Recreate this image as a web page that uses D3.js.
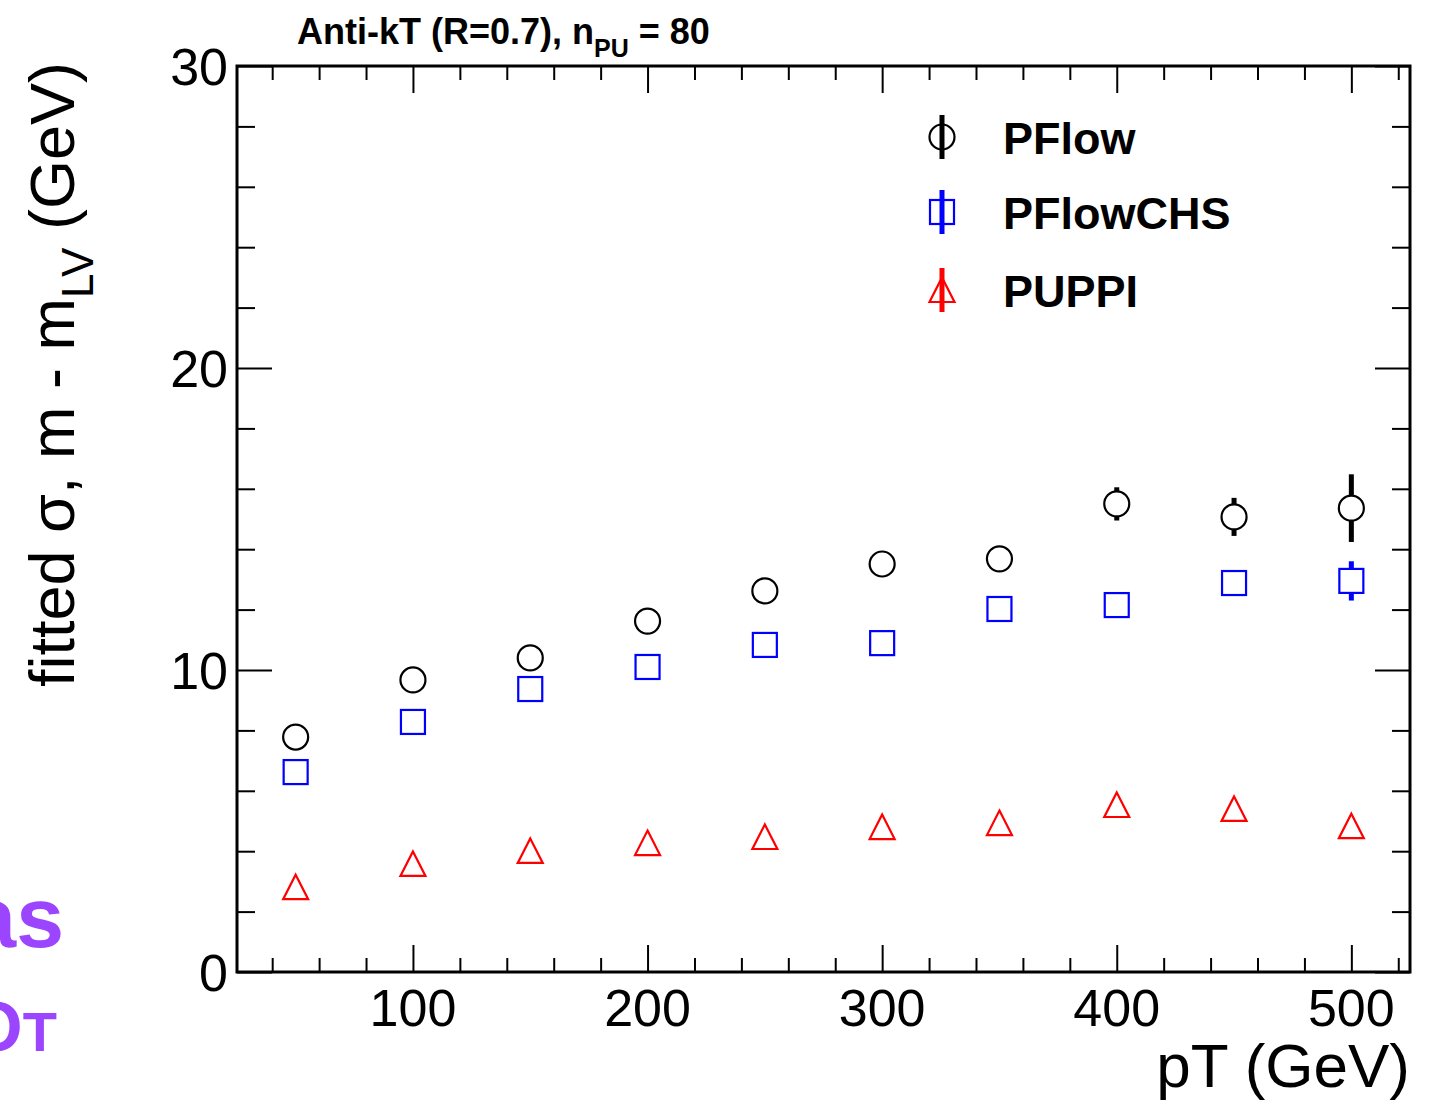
<!DOCTYPE html>
<meta charset="utf-8">
<style>
body{ margin:0; background:#fff; }
svg{ font-family:"Liberation Sans", Arial, Helvetica, sans-serif; }
.tick line{ stroke:#000; stroke-width:2px; }
.label{ font-size:52px; }
.legend text{ font-size:45px; font-weight:bold; }
</style>
<body>
<script src="https://d3js.org/d3.v7.min.js"></script>
<script>

// ---------- data ------------
var pt = [50, 100, 150, 200, 250, 300, 350, 400, 450, 500];

var pflow    = [7.78, 9.67, 10.40, 11.62, 12.62, 13.51, 13.68, 15.50, 15.07, 15.36];
var pflowErr = [0.15, 0.18, 0.20, 0.22, 0.25, 0.28, 0.30, 0.55, 0.63, 1.12];

var pflowCHS    = [6.62, 8.28, 9.37, 10.10, 10.83, 10.89, 12.02, 12.15, 12.88, 12.95];
var pflowCHSErr = [0.12, 0.15, 0.17, 0.20, 0.22, 0.25, 0.28, 0.30, 0.35, 0.65];

var puppi    = [2.81, 3.58, 4.01, 4.27, 4.47, 4.80, 4.93, 5.53, 5.40, 4.83];
var puppiErr = [0.05, 0.06, 0.07, 0.08, 0.09, 0.10, 0.11, 0.15, 0.17, 0.25];

var xMajor = [100, 200, 300, 400, 500];
var xMinor = [40, 60, 80, 120, 140, 160, 180, 220, 240, 260, 280, 320, 340, 360, 380, 420, 440, 460, 480, 520];
var yMajor = [0, 10, 20, 30];
var yMinor = [2, 4, 6, 8, 12, 14, 16, 18, 22, 24, 26, 28];

var series = [
    {name:"PFlow",    vals:pflow,    errs:pflowErr,    color:"#000000", shape:"circle"},
    {name:"PFlowCHS", vals:pflowCHS, errs:pflowCHSErr, color:"#0000ff", shape:"square"},
    {name:"PUPPI",    vals:puppi,    errs:puppiErr,    color:"#ff0000", shape:"triangle"}
];

// ---------- frame ------------
var W = 1438, H = 1101;
var padL = 237, padR = 1410, padT = 66, padB = 972;

var svg = d3.select("body").append("svg").attr("width", W).attr("height", H);

var x = d3.scaleLinear().domain([25, 525]).range([padL, padR]);
var y = d3.scaleLinear().domain([0, 30]).range([padB, padT]);

// ticks, all pointing inward
function ticks(axisFn, scale, vals, size, tx, ty){
    svg.append("g").attr("transform", "translate(" + tx + "," + ty + ")")
        .call(axisFn(scale).tickValues(vals).tickSize(size).tickFormat(""))
        .call(g => g.select(".domain").remove());
}
ticks(d3.axisBottom, x, xMajor, -27, 0, padB);
ticks(d3.axisBottom, x, xMinor, -14, 0, padB);
ticks(d3.axisTop,    x, xMajor, -27, 0, padT);
ticks(d3.axisTop,    x, xMinor, -14, 0, padT);
ticks(d3.axisLeft,   y, yMajor, -35, padL, 0);
ticks(d3.axisLeft,   y, yMinor, -18, padL, 0);
ticks(d3.axisRight,  y, yMajor, -35, padR, 0);
ticks(d3.axisRight,  y, yMinor, -18, padR, 0);

svg.append("rect")
    .attr("x", padL).attr("y", padT)
    .attr("width", padR - padL).attr("height", padB - padT)
    .attr("fill", "none").attr("stroke", "#000").attr("stroke-width", 3);

// tick labels
svg.selectAll(".xl").data(xMajor).enter().append("text")
    .attr("class", "label").attr("x", d => x(d)).attr("y", 1026)
    .attr("text-anchor", "middle").text(d => d);

svg.selectAll(".yl").data(yMajor).enter().append("text")
    .attr("class", "label").attr("x", 228).attr("y", d => y(d) + 19)
    .attr("text-anchor", "end").text(d => d);

// axis titles
svg.append("text").attr("x", 1410).attr("y", 1087)
    .attr("text-anchor", "end").style("font-size", "62px").text("pT (GeV)");

var yt = svg.append("text")
    .attr("transform", "translate(74,62) rotate(-90)")
    .attr("text-anchor", "end").style("font-size", "63px");
yt.append("tspan").text("fitted σ, m - m");
yt.append("tspan").attr("dy", 19).style("font-size", "44px").text("LV");
yt.append("tspan").attr("dy", -19).text(" (GeV)");

var title = svg.append("text").attr("x", 297).attr("y", 44)
    .style("font-size", "36px").style("font-weight", "bold");
title.append("tspan").text("Anti-kT (R=0.7), n");
title.append("tspan").attr("dy", 13).style("font-size", "25px").text("PU");
title.append("tspan").attr("dy", -13).text(" = 80");

// purple text cut at the left edge
svg.append("text").attr("x", 64).attr("y", 947).attr("text-anchor", "end")
    .style("font-size", "86px").style("font-weight", "bold").attr("fill", "#9b45ff").text("as");
var ot = svg.append("text").attr("x", 57).attr("y", 1051).attr("text-anchor", "end")
    .style("font-weight", "bold").attr("fill", "#9b45ff");
ot.append("tspan").style("font-size", "70px").text("O");
ot.append("tspan").style("font-size", "56px").text("T");

// ---------- markers ------------
var R = 12.5;
function marker(g, shape, cx, cy){
    if (shape == "circle") {
        g.append("circle").attr("cx", cx).attr("cy", cy).attr("r", R);
    } else if (shape == "square") {
        g.append("rect").attr("x", cx - 12).attr("y", cy - 12).attr("width", 24).attr("height", 24);
    } else {
        g.append("path").attr("d", "M" + cx + "," + (cy - 12.5) + "L" + (cx + 12.5) + "," + (cy + 12) +
            "L" + (cx - 12.5) + "," + (cy + 12) + "Z");
    }
}

series.forEach(function(s){
    var g = svg.append("g").attr("fill", "none").attr("stroke", s.color).attr("stroke-width", 2.2);
    s.vals.forEach(function(v, i){
        var cx = x(pt[i]), cy = y(v);
        var e = y(v) - y(v + s.errs[i]);
        if (e > R) {
            g.append("line").attr("x1", cx).attr("x2", cx).attr("y1", cy - e).attr("y2", cy - R).attr("stroke-width", 5);
            g.append("line").attr("x1", cx).attr("x2", cx).attr("y1", cy + R).attr("y2", cy + e).attr("stroke-width", 5);
        }
        marker(g, s.shape, cx, cy);
    });
});

// ---------- legend ------------
var legY = [137, 212, 290];
var leg = svg.append("g").attr("class", "legend");
series.forEach(function(s, i){
    var g = leg.append("g").attr("fill", "none").attr("stroke", s.color).attr("stroke-width", 2.2);
    marker(g, s.shape, 942, legY[i]);
    g.append("line").attr("x1", 942).attr("x2", 942)
        .attr("y1", legY[i] - 22).attr("y2", legY[i] + 22).attr("stroke-width", 5);
    leg.append("text").attr("x", 1003).attr("y", legY[i] + 17).text(s.name);
});

</script>
</body>
</html>
